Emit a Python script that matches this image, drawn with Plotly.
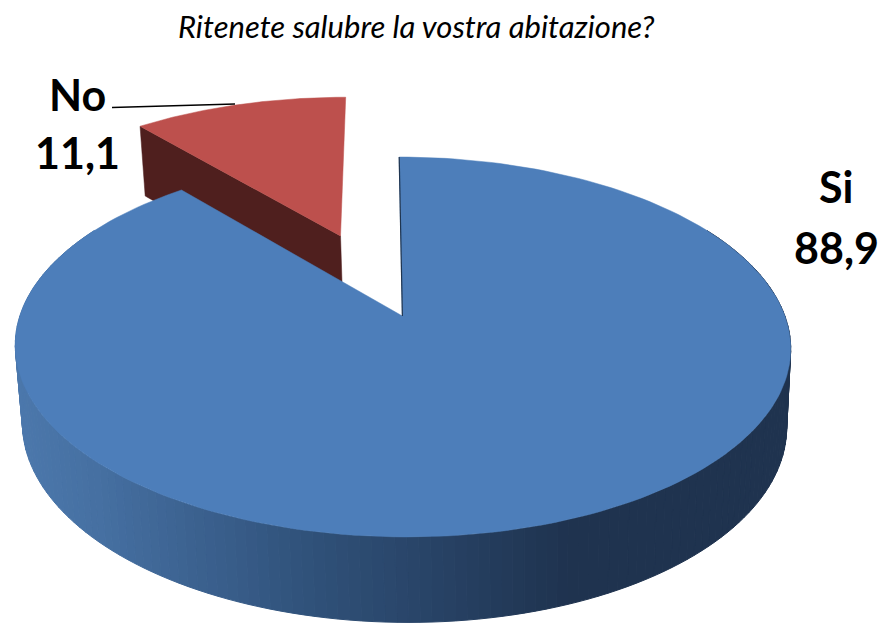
import numpy as np
import plotly.graph_objects as go

# Data
categories = ["Si", "No"]
values = [88.9, 11.1]
title_text = "Ritenete salubre la vostra abitazione?"

# Styles
FONT = "Lato"
BLUE_TOP = "#4d7eba"
RED_TOP = "#bd504d"
RED_WALL = "#4f1f1e"
EDGE = "#1f3550"
WALL_X = [20, 100, 300, 570, 800]
WALL_RGB = [(76, 120, 172), (70, 112, 162), (49, 83, 124), (31, 51, 79), (31, 51, 79)]

# Projection of the pie plane to the picture
K = 0.1631
X0, SHEAR = 403.0, 0.02
A_TOP, B_TOP, Y_TOP = 382.5, 184.9, 316.0
A_BOT, B_BOT, Y_BOT = 377.0, 192.0, 393.0
EXPLODE = 0.496


def project(u, v, level):
    a, b, y0 = (A_TOP, B_TOP, Y_TOP) if level == "top" else (A_BOT, B_BOT, Y_BOT)
    d = 1 + K * v
    y = y0 - b * v / d
    x = X0 + a * u / d + SHEAR * (y - 347)
    return x, y


def rim(start, end, level, cu=0.0, cv=0.0, n=200):
    t = np.radians(np.linspace(start, end, n))
    return project(cu + np.sin(t), cv + np.cos(t), level)


def poly(x, y, color, width=0.0):
    return go.Scatter(
        x=list(x), y=list(y), mode="lines", fill="toself", fillcolor=color,
        line=dict(color=color, width=width), hoverinfo="skip", showlegend=False,
    )


def wedge(start, end, level, cu=0.0, cv=0.0):
    rx, ry = rim(start, end, level, cu, cv)
    ax, ay = project(cu, cv, level)
    return np.r_[ax, rx, ax], np.r_[ay, ry, ay]


total = sum(values)
si_span = 360 * values[0] / total
no_mid = si_span + (360 - si_span) / 2
cu = EXPLODE * np.sin(np.radians(no_mid))
cv = EXPLODE * np.cos(np.radians(no_mid))

fig = go.Figure()

# Exploded "No" slice: radial wall then top
p_a = project(cu, cv, "top")
p_b = project(cu, cv, "bottom")
t = np.radians(si_span)
q_a = project(cu + np.sin(t), cv + np.cos(t), "top")
q_b = project(cu + np.sin(t), cv + np.cos(t), "bottom")
fig.add_trace(poly([p_a[0], q_a[0], q_b[0], p_b[0], p_a[0]],
                   [p_a[1], q_a[1], q_b[1], p_b[1], p_a[1]], RED_WALL, 0.5))
fig.add_trace(poly(*wedge(si_span, 360, "top", cu, cv), RED_TOP, 0.5))

# "Si" slice: outer wall as shaded strips, then top
edges = np.arange(60, 301, 1.5)
for a0, a1 in zip(edges[:-1], edges[1:]):
    tx, ty = rim(a0, a1, "top", n=2)
    bx, by = rim(a0, a1, "bottom", n=2)
    xm = (tx.mean() + bx.mean()) / 2
    rgb = [int(np.interp(xm, WALL_X, [c[i] for c in WALL_RGB])) for i in range(3)]
    col = f"rgb({rgb[0]},{rgb[1]},{rgb[2]})"
    fig.add_trace(poly(np.r_[tx, bx[::-1], tx[0]], np.r_[ty, by[::-1], ty[0]], col, 1))

fig.add_trace(poly(*wedge(0, si_span, "top"), BLUE_TOP, 0.5))

# Thin dark edge at the start of the "Si" slice
ex, ey = zip(project(0, 0, "top"), project(0, 1, "top"))
fig.add_trace(go.Scatter(x=ex, y=ey, mode="lines", line=dict(color=EDGE, width=1.2),
                         hoverinfo="skip", showlegend=False))

# Leader line of "No"
fig.add_trace(go.Scatter(x=[112, 235], y=[107.5, 104], mode="lines",
                         line=dict(color="black", width=1.4),
                         hoverinfo="skip", showlegend=False))


def fmt(v):
    return f"{v:.1f}".replace(".", ",")


def label(x, y, text, size=43, bold=True):
    fig.add_annotation(
        x=x, y=y, xref="x", yref="y", text=(f"<b>{text}</b>" if bold else f"<i>{text}</i>"),
        showarrow=False, xanchor="center", yanchor="middle",
        font=dict(family=FONT, size=size, color="black"),
    )


label(77, 94, categories[1])
label(77, 152, fmt(values[1]))
label(836, 186, categories[0])
label(836, 247, fmt(values[0]))
label(416, 26, title_text, size=31, bold=False)

fig.update_layout(
    width=881, height=623, margin=dict(l=0, r=0, t=0, b=0),
    paper_bgcolor="white", plot_bgcolor="white", showlegend=False,
    xaxis=dict(range=[0, 881], visible=False, fixedrange=True),
    yaxis=dict(range=[623, 0], visible=False, fixedrange=True),
)
fig.write_html("out.html", post_script="document.body.style.margin='0';",
               config=dict(displayModeBar=False))
